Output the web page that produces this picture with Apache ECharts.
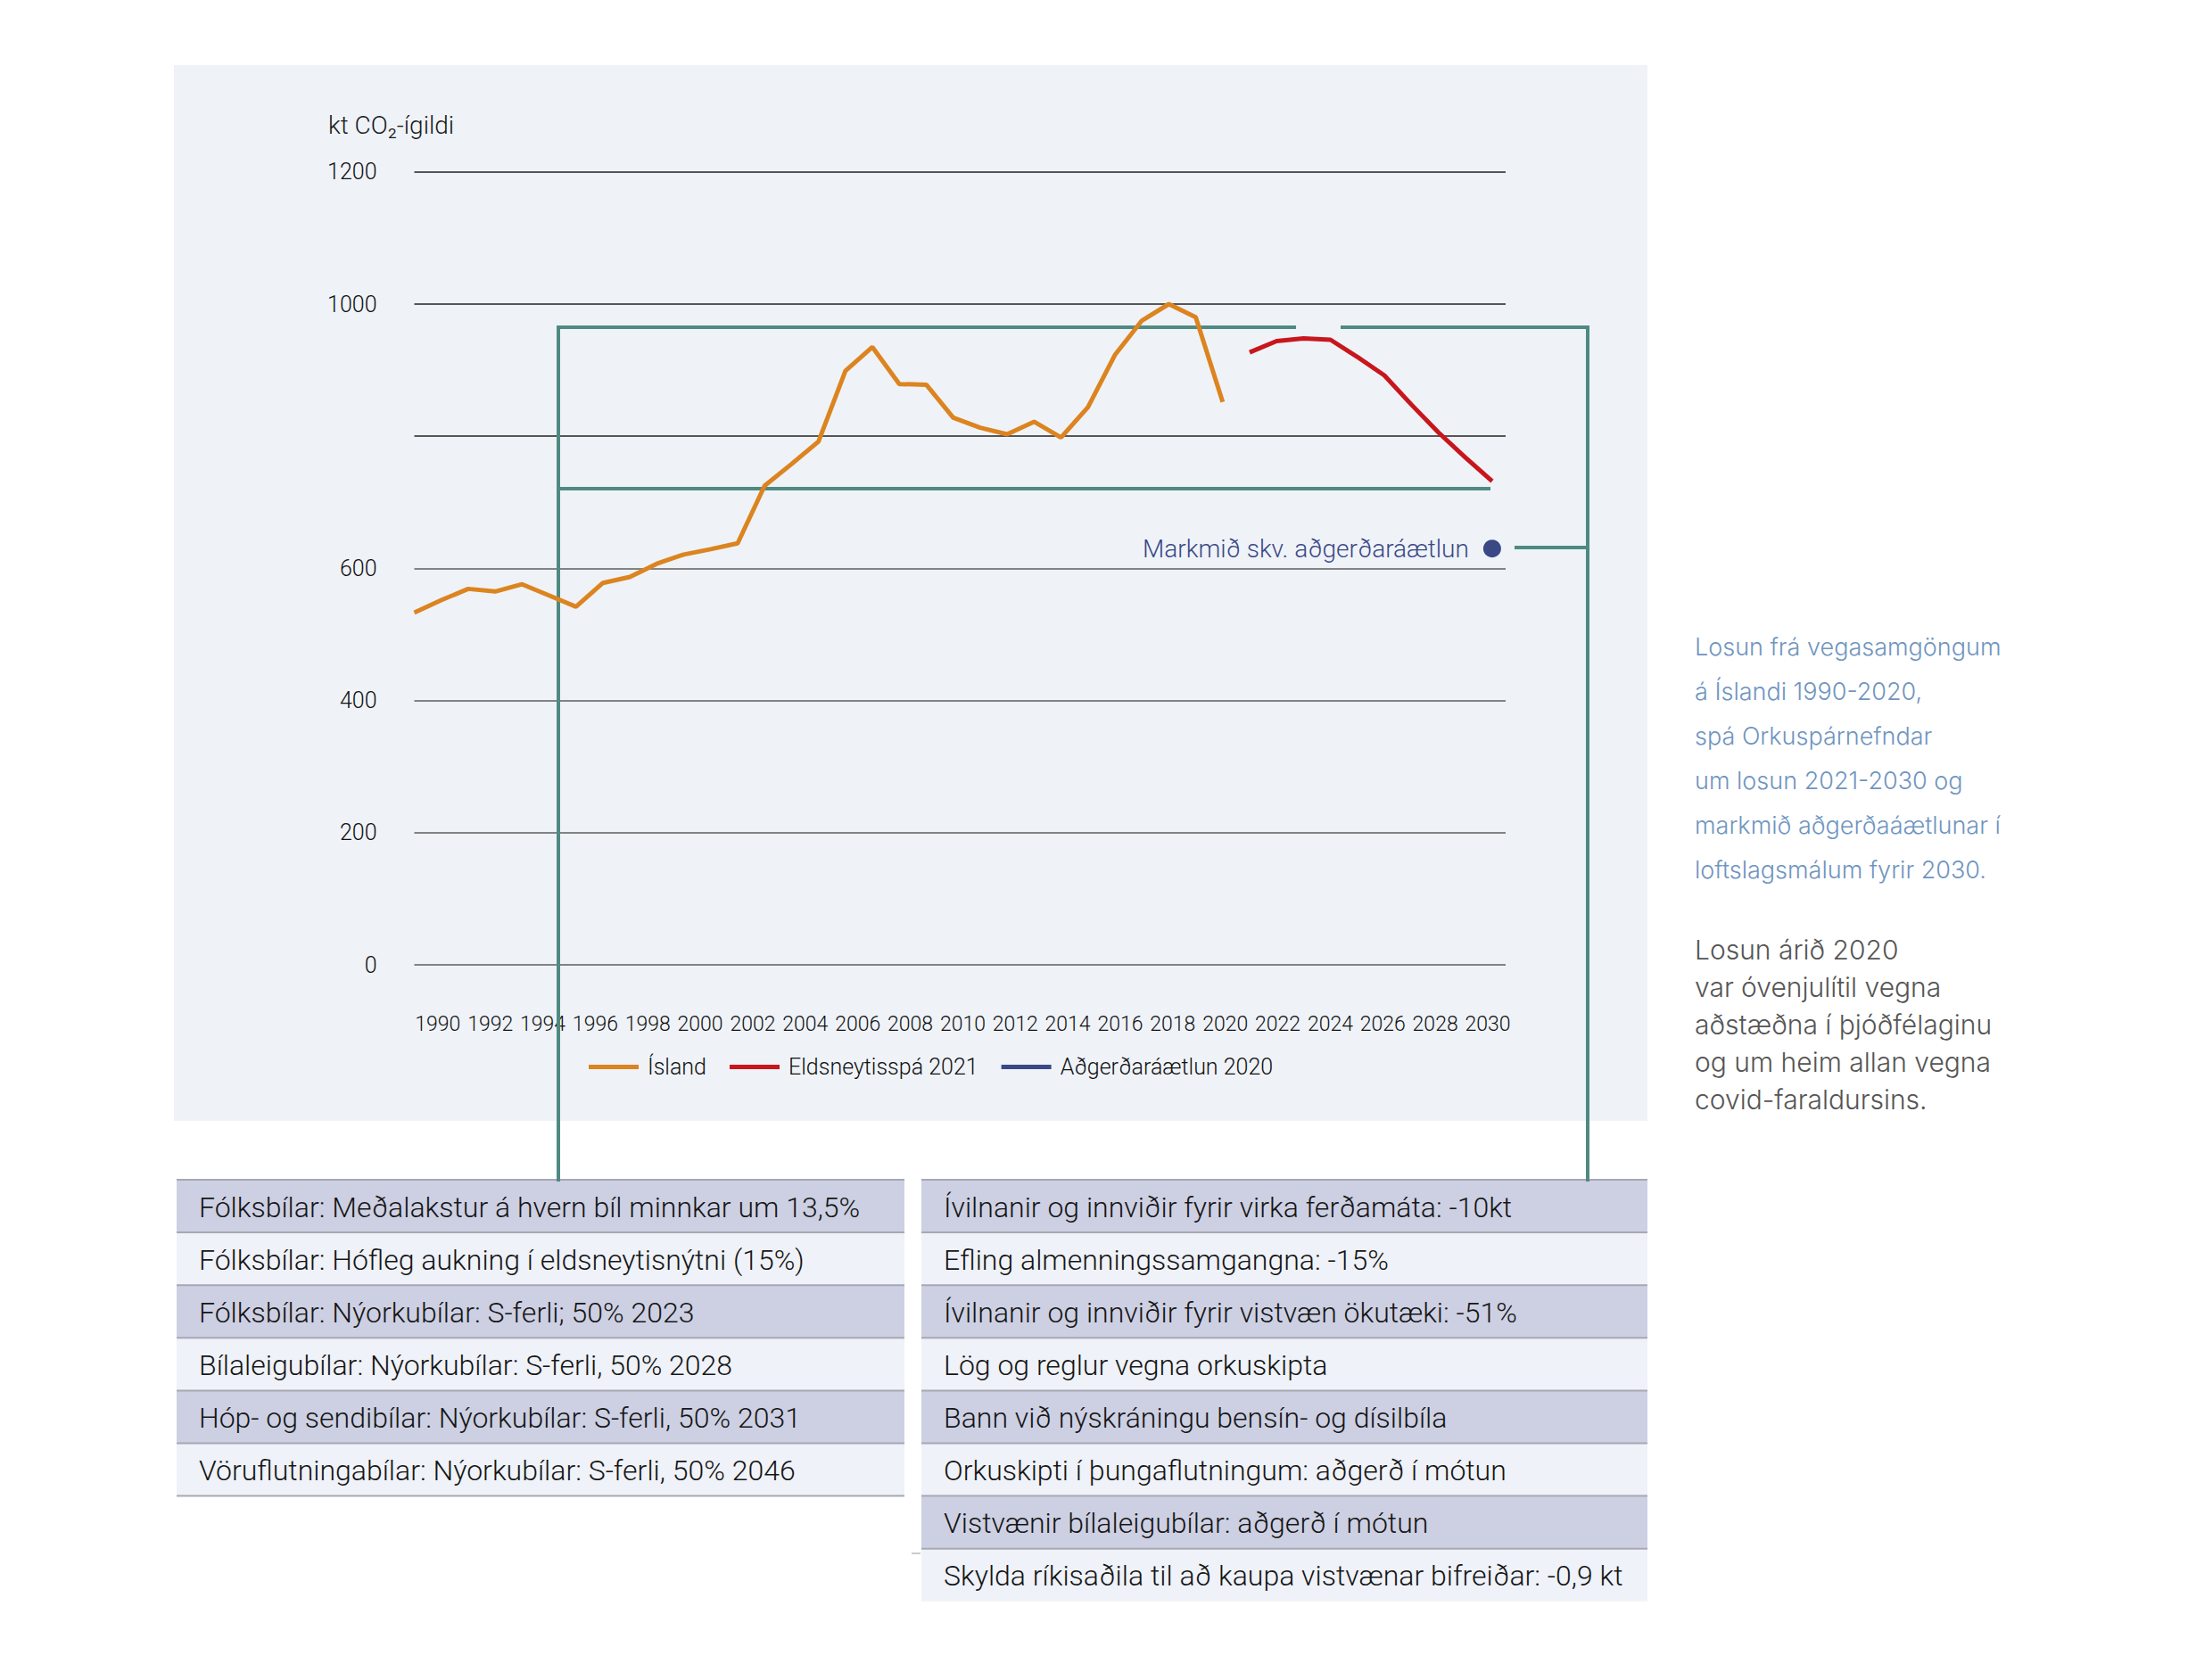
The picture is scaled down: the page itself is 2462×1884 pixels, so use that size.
<!DOCTYPE html>
<html>
<head>
<meta charset="utf-8">
<script src="https://cdn.jsdelivr.net/npm/echarts@6/dist/echarts.min.js"></script>
<style>
html,body{margin:0;padding:0;background:#ffffff;}
#chart{width:2462px;height:1884px;}
</style>
</head>
<body>
<div id="chart"></div>
<script>
// ---------- data ----------
const islandYears = [1990,1991,1992,1993,1994,1995,1996,1997,1998,1999,2000,2001,2002,2003,2004,2005,2006,2007,2008,2009,2010,2011,2012,2013,2014,2015,2016,2017,2018,2019,2020];
const islandValues = [533,552,569,565,576,559,542,578,587,607,621,629,638,725,758,792,899,935,879,878,828,813,803,822,798,844,923,975,1000,980,852];
const forecastYears = [2021,2022,2023,2024,2025,2026,2027,2028,2029,2030];
const forecastValues = [927,944,948,946,920,892,848,806,768,732];
const targetYears = [2030];
const targetValues = [630];
const seriesNames = ['Ísland','Eldsneytisspá 2021','Aðgerðaráætlun 2020'];
const targetLabel = 'Markmið skv. aðgerðaráætlun';
const xTickLabels = [1990,1992,1994,1996,1998,2000,2002,2004,2006,2008,2010,2012,2014,2016,2018,2020,2022,2024,2026,2028,2030];
const yTicks = [0,200,400,600,800,1000,1200];
const hiddenYTicks = [800];
const yAxisTitle = 'kt CO₂-ígildi';
const leftMeasures = [
  'Fólksbílar: Meðalakstur á hvern bíl minnkar um 13,5%',
  'Fólksbílar: Hófleg aukning í eldsneytisnýtni (15%)',
  'Fólksbílar: Nýorkubílar: S-ferli; 50% 2023',
  'Bílaleigubílar: Nýorkubílar: S-ferli, 50% 2028',
  'Hóp- og sendibílar: Nýorkubílar: S-ferli, 50% 2031',
  'Vöruflutningabílar: Nýorkubílar: S-ferli, 50% 2046'
];
const rightMeasures = [
  'Ívilnanir og innviðir fyrir virka ferðamáta: -10kt',
  'Efling almenningssamgangna: -15%',
  'Ívilnanir og innviðir fyrir vistvæn ökutæki: -51%',
  'Lög og reglur vegna orkuskipta',
  'Bann við nýskráningu bensín- og dísilbíla',
  'Orkuskipti í þungaflutningum: aðgerð í mótun',
  'Vistvænir bílaleigubílar: aðgerð í mótun',
  'Skylda ríkisaðila til að kaupa vistvænar bifreiðar: -0,9 kt'
];
const noteBlue = [
  'Losun frá vegasamgöngum',
  'á Íslandi 1990-2020,',
  'spá Orkuspárnefndar',
  'um losun 2021-2030 og',
  'markmið aðgerðaáætlunar í',
  'loftslagsmálum fyrir 2030.'
];
const noteGray = [
  'Losun árið 2020',
  'var óvenjulítil vegna',
  'aðstæðna í þjóðfélaginu',
  'og um heim allan vegna',
  'covid-faraldursins.'
];

// ---------- styles ----------
const FONT = 'Roboto, "Liberation Sans", sans-serif';
const NOTE_FONT = 'Inter, Roboto, sans-serif';
const TEAL = '#4f8a82';
const ORANGE = '#dc841f';
const RED = '#c8161d';
const NAVY = '#3a4886';

const graphics = [];
graphics.push({type:'rect', z:-10, shape:{x:195,y:73,width:1652,height:1184}, style:{fill:'#eff3f8'}, silent:true});

const tealLines = [
  [626,367,1453,367],
  [1503,367,1780,367],
  [626,548,1671,548],
  [626,365,626,1325],
  [1780,365,1780,1325],
  [1698,614,1780,614]
];
tealLines.forEach(l => graphics.push({type:'line', z:5, shape:{x1:l[0],y1:l[1],x2:l[2],y2:l[3]}, style:{stroke:TEAL, lineWidth:4}, silent:true}));

graphics.push({type:'text', z:10, x:368, y:140, style:{text:yAxisTitle, font:'300 28px ' + FONT, fill:'#1a1a1a', align:'left', verticalAlign:'middle'}});

function table(items, x, w, top, h, bottomLine){
  items.forEach((t,i)=>{
    const y = top + i*h;
    graphics.push({type:'rect', z:1, shape:{x:x,y:y,width:w,height:h}, style:{fill: i%2===0 ? '#cdd0e3' : '#eff2f8'}, silent:true});
    graphics.push({type:'text', z:3, x:x+25, y:y+h/2+1, style:{text:t, font:'300 32px ' + FONT, fill:'#161616', align:'left', verticalAlign:'middle'}});
  });
  const n = items.length;
  for(let i=0;i<=n;i++){
    if(i===n && !bottomLine) continue;
    graphics.push({type:'line', z:2, shape:{x1:x,y1:top+i*h,x2:x+w,y2:top+i*h}, style:{stroke:'#a7a8b2', lineWidth:2}, silent:true});
  }
}
table(leftMeasures, 198, 816, 1323, 59.1, true);
table(rightMeasures, 1033, 814, 1323, 59.1, false);
graphics.push({type:'line', z:2, shape:{x1:1022,y1:1742,x2:1032,y2:1742}, style:{stroke:'#999', lineWidth:1}, silent:true});

noteBlue.forEach((t,i)=>graphics.push({type:'text', x:1900, y:725 + i*50.1, style:{text:t, font:'300 27px ' + NOTE_FONT, fill:'#6f95c0', align:'left', verticalAlign:'middle'}}));
noteGray.forEach((t,i)=>graphics.push({type:'text', x:1900, y:1065 + i*42, style:{text:t, font:'300 30px ' + NOTE_FONT, fill:'#555555', align:'left', verticalAlign:'middle'}}));

const chart = echarts.init(document.getElementById('chart'), null, {renderer:'svg', width:2462, height:1884});
chart.setOption({
  animation:false,
  backgroundColor:'#ffffff',
  textStyle:{fontFamily:FONT},
  grid:{left:464.5, right:774, top:192.8, bottom:802, containLabel:false},
  legend:{
    left:655, top:1179,
    icon:'rect', itemWidth:56, itemHeight:5, itemGap:26,
    textStyle:{fontSize:25, fontWeight:300, color:'#111', fontFamily:FONT, padding:[0,0,0,5]},
    data:seriesNames
  },
  xAxis:[{
    type:'value', min:1990, max:2030.5, interval:2,
    axisLine:{show:false}, axisTick:{show:false}, splitLine:{show:false},
    axisLabel:{show:false}
  },{
    // label-only axis: tick labels in the reference sit on a slightly narrower span than the data
    type:'value', min:1989.106, max:2030.68, position:'bottom',
    axisLine:{show:false}, axisTick:{show:false}, splitLine:{show:false},
    axisLabel:{margin:55, fontSize:23, fontWeight:300, color:'#111', fontFamily:FONT,
      customValues:xTickLabels, formatter:v => String(v)}
  }],
  yAxis:{
    type:'value', min:yTicks[0], max:yTicks[yTicks.length-1], interval:200,
    axisLine:{show:false}, axisTick:{show:false},
    splitLine:{show:true, lineStyle:{color:['#5e5e5e','#5e5e5e','#5e5e5e','#5e5e5e','#222','#222','#222'], width:1.6}},
    axisLabel:{margin:42, fontSize:25, fontWeight:300, color:'#111', fontFamily:FONT,
      formatter:v => (hiddenYTicks.indexOf(v) >= 0 ? '' : String(v))}
  },
  series:[
    {name:seriesNames[0], type:'line', xAxisIndex:0, z:8, showSymbol:false, color:ORANGE,
     lineStyle:{width:5, color:ORANGE},
     data:islandYears.map((y,i)=>[y, islandValues[i]])},
    {name:seriesNames[1], type:'line', xAxisIndex:0, z:8, showSymbol:false, color:RED,
     lineStyle:{width:5, color:RED},
     data:forecastYears.map((y,i)=>[y, forecastValues[i]])},
    {name:seriesNames[2], type:'line', xAxisIndex:0, z:8, showSymbol:true, symbol:'circle', symbolSize:20, color:NAVY,
     itemStyle:{color:NAVY}, lineStyle:{width:5, color:NAVY},
     label:{show:true, position:'left', distance:16, formatter:targetLabel, fontSize:28, fontWeight:300, color:NAVY, fontFamily:FONT},
     data:targetYears.map((y,i)=>[y, targetValues[i]])}
  ],
  graphic:graphics
});
</script>
</body>
</html>
